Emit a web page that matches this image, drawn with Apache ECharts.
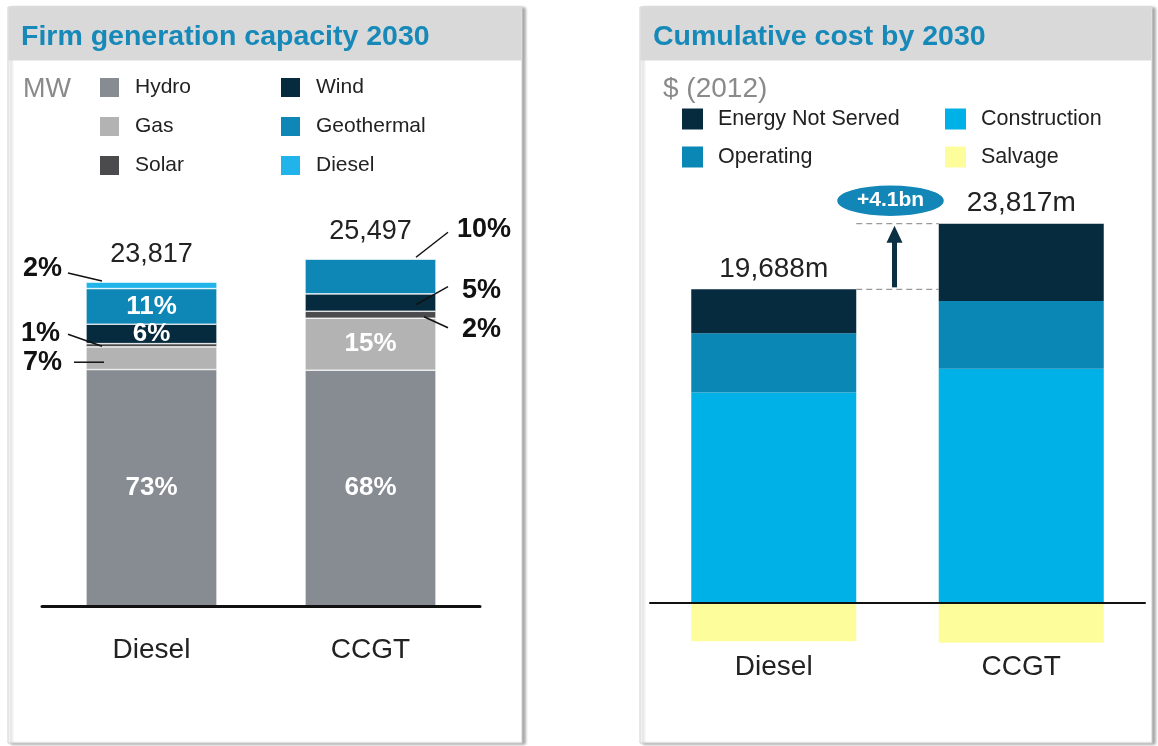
<!DOCTYPE html>
<html>
<head>
<meta charset="utf-8">
<script src="https://cdn.jsdelivr.net/npm/echarts@6/dist/echarts.min.js"></script>
<style>
  html, body { margin: 0; padding: 0; background: #fff; }
  #chart { width: 1158px; height: 746px; }
</style>
</head>
<body>
<div id="chart"></div>
<script>
// firm generation capacity (MW totals + share of each source, %)
const capCategories = ['Diesel', 'CCGT'];
const capTotals = [23817, 25497];
const capHydroPct = [73, 68];
const capGasPct = [7, 15];
const capSolarPct = [1, 2];
const capWindPct = [6, 5];
const capGeothermalPct = [11, 10];
const capDieselPct = [2, 0];

// cumulative cost by 2030, $m (2012)
const costCategories = ['Diesel', 'CCGT'];
const costTotals = [19688, 23817];
const costConstruction = [13200, 14700];
const costOperating = [3720, 4250];
const costEnergyNotServed = [2768, 4867];
const costSalvage = [-2450, -2550];

const FONT = '"Liberation Sans", Arial, sans-serif';
const chart = echarts.init(document.getElementById('chart'));

const capSeries = [
  { name: 'Hydro', pct: capHydroPct, color: '#878b92', inside: [true, true] },
  { name: 'Gas', pct: capGasPct, color: '#b3b3b3', inside: [false, true] },
  { name: 'Solar', pct: capSolarPct, color: '#4b4b4d', inside: [false, false] },
  { name: 'Wind', pct: capWindPct, color: '#062a3e', inside: [true, false] },
  { name: 'Geothermal', pct: capGeothermalPct, color: '#0e86b6', inside: [true, false] },
  { name: 'Diesel', pct: capDieselPct, color: '#20b4ea', inside: [false, false] }
];

const costSeries = [
  { name: 'Construction', data: costConstruction, color: '#00b1e7' },
  { name: 'Operating', data: costOperating, color: '#0a87b5' },
  { name: 'Energy Not Served', data: costEnergyNotServed, color: '#062b3f' },
  { name: 'Salvage', data: costSalvage, color: '#fdfd9c' }
];

const series = [];
capSeries.forEach(s => {
  series.push({
    name: s.name,
    type: 'bar',
    stack: 'cap',
    xAxisIndex: 0,
    yAxisIndex: 0,
    barWidth: 131,
    itemStyle: { color: s.color, borderColor: '#fff', borderWidth: 0.6 },
    label: {
      color: '#fff',
      fontFamily: FONT,
      fontWeight: 'bold',
      fontSize: 26,
      position: 'inside',
      formatter: p => s.pct[p.dataIndex] + '%'
    },
    data: capTotals.map((t, i) => s.pct[i] === 0 ? '-' : {
      value: Math.round(t * s.pct[i] / 100),
      label: { show: s.inside[i] }
    })
  });
});
costSeries.forEach(s => {
  series.push({
    name: s.name,
    type: 'bar',
    stack: 'cost',
    xAxisIndex: 1,
    yAxisIndex: 1,
    barWidth: 165,
    itemStyle: { color: s.color },
    data: s.data
  });
});

const legendBase = {
  orient: 'vertical',
  icon: 'rect',
  itemWidth: 21,
  itemHeight: 21,
  padding: 0,
  selectedMode: false,
  textStyle: { fontFamily: FONT, fontSize: 21, color: '#222', lineHeight: 21, padding: [0, 0, 0, 10] }
};
const legendRightText = Object.assign({}, legendBase.textStyle, { fontSize: 21.5 });

chart.setOption({
  animation: false,
  title: [
    { text: 'Firm generation capacity 2030', left: 21, top: 23, padding: 0,
      textStyle: { fontFamily: FONT, fontSize: 28.5, fontWeight: 'bold', color: '#1689b9' } },
    { text: 'Cumulative cost by 2030', left: 653, top: 23, padding: 0,
      textStyle: { fontFamily: FONT, fontSize: 28.5, fontWeight: 'bold', color: '#1689b9' } },
    { text: 'MW', left: 23, top: 76, padding: 0,
      textStyle: { fontFamily: FONT, fontSize: 27, fontWeight: 'normal', color: '#8a8a8a' } },
    { text: '$ (2012)', left: 663, top: 75, padding: 0,
      textStyle: { fontFamily: FONT, fontSize: 28, fontWeight: 'normal', color: '#8a8a8a' } }
  ],
  legend: [
    Object.assign({}, legendBase, { left: 98, top: 76, itemGap: 16, data: ['Hydro', 'Gas', 'Solar'] }),
    Object.assign({}, legendBase, { left: 279, top: 76, itemGap: 16, data: ['Wind', 'Geothermal', 'Diesel'] }),
    Object.assign({}, legendBase, { left: 682, top: 108, itemGap: 16, textStyle: legendRightText, data: ['Energy Not Served', 'Operating'] }),
    Object.assign({}, legendBase, { left: 945, top: 108, itemGap: 16, textStyle: legendRightText, data: ['Construction', 'Salvage'] })
  ],
  grid: [
    { left: 42, width: 438, top: 198, bottom: 140, outerBoundsMode: 'none', containLabel: false },
    { left: 650, width: 495, top: 189, bottom: 96, outerBoundsMode: 'none', containLabel: false }
  ],
  xAxis: [
    { type: 'category', gridIndex: 0, data: capCategories, z: 5,
      axisLine: { onZero: true, lineStyle: { color: '#111', width: 3 } },
      axisTick: { show: false },
      axisLabel: { fontFamily: FONT, fontSize: 28, color: '#222', margin: 30 } },
    { type: 'category', gridIndex: 1, data: costCategories, z: 5,
      axisLine: { onZero: true, lineStyle: { color: '#111', width: 2 } },
      axisTick: { show: false },
      axisLabel: { fontFamily: FONT, fontSize: 28, color: '#222', margin: 3 } }
  ],
  yAxis: [
    { type: 'value', gridIndex: 0, min: 0, max: 30000, show: false, splitLine: { show: false } },
    { type: 'value', gridIndex: 1, min: -3000, max: 26000, show: false, splitLine: { show: false } }
  ],
  series: series
});

// annotations positioned from the chart's own scales
const px = (g, i, v) => chart.convertToPixel({ gridIndex: g }, [i, v]);
const g = [];

function panel(x, w) {
  g.push({ type: 'rect', z: -10, shape: { x: x, y: 7, width: w, height: 736 },
    style: { fill: '#fff', stroke: '#cfcfcf', lineWidth: 1,
      shadowColor: 'rgba(0,0,0,0.35)', shadowBlur: 3, shadowOffsetX: 3, shadowOffsetY: 1 } });
  g.push({ type: 'rect', z: -9, shape: { x: x + 0.5, y: 7.5, width: w - 1, height: 53 },
    style: { fill: '#d9d9d9' } });
}
panel(8, 514);
panel(640, 512);

function text(x, y, str, opt) {
  g.push({ type: 'text', z: 50, x: x, y: y,
    style: Object.assign({ text: str, fontFamily: FONT, fontSize: 27, fill: '#111',
      align: 'center', verticalAlign: 'middle' }, opt || {}) });
}
function line(x1, y1, x2, y2, opt) {
  g.push({ type: 'line', z: 50, shape: { x1: x1, y1: y1, x2: x2, y2: y2 },
    style: Object.assign({ stroke: '#111', lineWidth: 1.5 }, opt || {}) });
}

// capacity: segment boundaries
const capBounds = capTotals.map((t, i) => {
  let acc = 0;
  const b = {};
  capSeries.forEach(s => {
    const v = Math.round(t * s.pct[i] / 100);
    b[s.name] = { lo: acc, hi: acc + v };
    acc += v;
  });
  b.top = acc;
  return b;
});
const segY = (i, name, where) => {
  const s = capBounds[i][name];
  const v = where === 'top' ? s.hi : (s.lo + s.hi) / 2;
  return px(0, i, v)[1];
};

capTotals.forEach((t, i) => {
  const p = px(0, i, capBounds[i].top);
  text(p[0], p[1] - 28, t.toLocaleString('en-US'), { fill: '#222' });
});

const half = 131 / 2;
const xL = px(0, 0, 0)[0] - half;
const xR = px(0, 1, 0)[0] + half;
const bold = { fontWeight: 'bold', align: 'right', fontSize: 27 };
let y;
y = segY(0, 'Diesel', 'top');
line(xL + 16, y - 1, xL - 18, y - 9);
text(xL - 24, y - 14, capDieselPct[0] + '%', bold);
y = segY(0, 'Solar', 'mid');
line(xL + 16, y + 1, xL - 18, y - 11);
text(xL - 26, y - 12, capSolarPct[0] + '%', bold);
y = segY(0, 'Gas', 'mid');
line(xL - 12, y + 4, xL + 18, y + 4);
text(xL - 24, y + 4, capGasPct[0] + '%', bold);

const boldL = { fontWeight: 'bold', align: 'left', fontSize: 27 };
y = segY(1, 'Geothermal', 'top');
line(xR - 20, y - 2, xR + 12, y - 27);
text(xR + 21, y - 30, capGeothermalPct[1] + '%', boldL);
y = segY(1, 'Wind', 'mid');
line(xR - 20, y + 2, xR + 12, y - 16);
text(xR + 26, y - 12, capWindPct[1] + '%', boldL);
y = segY(1, 'Solar', 'mid');
line(xR - 12, y + 2, xR + 12, y + 13);
text(xR + 26, y + 15, capSolarPct[1] + '%', boldL);

// cost: totals, dashed guides, arrow and delta bubble
const costTop = costCategories.map((c, i) => px(1, i, costConstruction[i] + costOperating[i] + costEnergyNotServed[i]));
costTotals.forEach((t, i) => {
  text(costTop[i][0], costTop[i][1] - 20, t.toLocaleString('en-US') + 'm', { fill: '#222', fontSize: 28 });
});
const ch = 165 / 2;
const dx1 = costTop[0][0] + ch, dx2 = costTop[1][0] - ch;
line(dx1, costTop[0][1], dx2, costTop[0][1], { stroke: '#9a9a9a', lineWidth: 1.2, lineDash: [6, 4] });
line(dx1, costTop[1][1], dx2, costTop[1][1], { stroke: '#9a9a9a', lineWidth: 1.2, lineDash: [6, 4] });
const ax = (dx1 + dx2) / 2 - 3;
line(ax, costTop[0][1] - 2, ax, costTop[1][1] + 16, { stroke: '#0b3044', lineWidth: 5 });
g.push({ type: 'polygon', z: 50,
  shape: { points: [[ax - 8, costTop[1][1] + 19], [ax + 8, costTop[1][1] + 19], [ax, costTop[1][1] + 2]] },
  style: { fill: '#0b3044' } });
g.push({ type: 'ellipse', z: 50,
  shape: { cx: ax - 4, cy: costTop[1][1] - 23, rx: 54, ry: 16 },
  style: { fill: '#1386b8', stroke: '#fff', lineWidth: 1.5 } });
const delta = ((costTotals[1] - costTotals[0]) / 1000).toFixed(1);
text(ax - 4, costTop[1][1] - 23, '+' + delta + 'bn', { fill: '#fff', fontWeight: 'bold', fontSize: 21 });

chart.setOption({ graphic: g });
</script>
</body>
</html>
